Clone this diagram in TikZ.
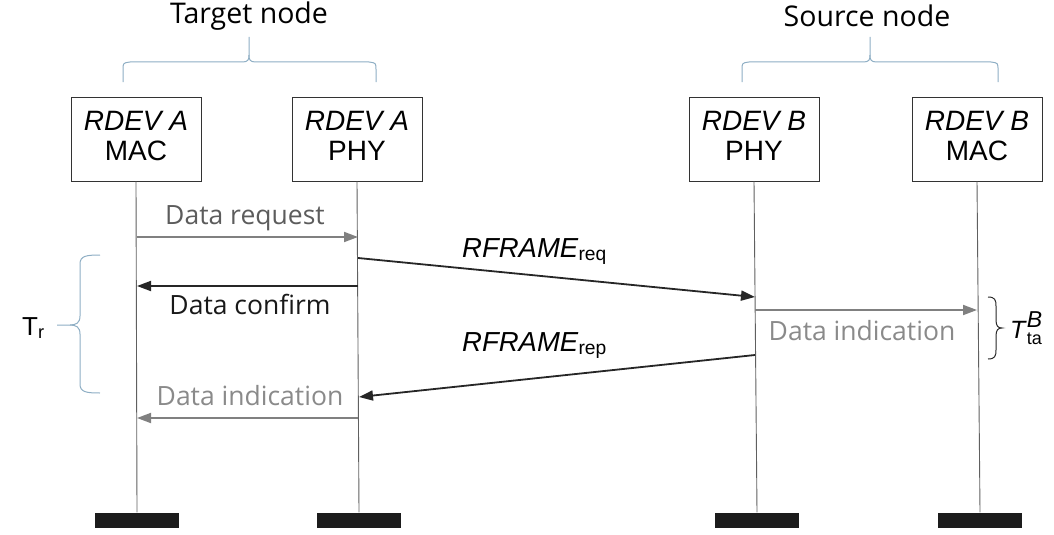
\documentclass[tikz,border=0pt]{standalone}
\usepackage{fontspec}
\setmainfont{Open Sans}
\newfontfamily\arialfont{Liberation Sans}
\usetikzlibrary{arrows.meta}
\definecolor{lifeline}{HTML}{606060}
\definecolor{msggray}{HTML}{808080}
\definecolor{txtgray}{HTML}{5C5C5C}
\definecolor{txtlight}{HTML}{8A8A8A}
\definecolor{bracecol}{HTML}{8EAEC4}
\definecolor{barcol}{HTML}{1C1C1C}
\tikzset{
  layerbox/.style={draw=black!80, line width=0.9pt, minimum width=130pt, minimum height=84pt,
    inner sep=0pt, align=center, text depth=7pt, font=\arialfont\fontsize{28}{30}\selectfont},
  endbar/.style={fill=barcol, draw=none, minimum width=84pt, minimum height=15pt, inner sep=0pt},
  life/.style={draw=lifeline, line width=0.9pt},
  grayarrow/.style={draw=msggray, line width=1.8pt, -{Triangle[length=14pt,width=10pt]}},
  blackarrow/.style={draw=black!85, line width=1.8pt, -{Triangle[length=14pt,width=10pt]}},
  msglabel/.style={font=\fontsize{26.5}{30}\selectfont, inner sep=0pt},
  framelabel/.style={font=\arialfont\fontsize{27.5}{30}\selectfont, inner sep=0pt},
  title/.style={font=\fontsize{28.5}{32}\selectfont, inner sep=0pt},
  brace/.style={draw=bracecol, line width=1pt},
}
\begin{document}
\begin{tikzpicture}[x=1pt, y=-1pt]
\useasboundingbox (0,0) rectangle (1054,535);

% layer boxes
\node[layerbox] (macA) at (136,139) {\textit{RDEV A}\\MAC};
\node[layerbox] (phyA) at (357,139) {\textit{RDEV A}\\PHY};
\node[layerbox] (phyB) at (754,139) {\textit{RDEV B}\\PHY};
\node[layerbox] (macB) at (977,139) {\textit{RDEV B}\\MAC};

% end bars
\node[endbar] (endMacA) at (137,520) {};
\node[endbar] (endPhyA) at (359,520) {};
\node[endbar] (endPhyB) at (757,520) {};
\node[endbar] (endMacB) at (980,520) {};

% lifelines
\draw[life] (macA.south) -- (endMacA.north);
\draw[life] (phyA.south) -- (endPhyA.north);
\draw[life] (phyB.south) -- (endPhyB.north);
\draw[life] (macB.south) -- (endMacB.north);

% group titles and braces
\node[title] (tgt) at (249,16) {Target node};
\node[title] (src) at (867,16) {Source node};
\coordinate (tgtTip) at (249,37);
\coordinate (srcTip) at (870,37);
\draw[brace] (123,82) -- (123,70) .. controls (123,63) .. (130,62) -- (242,62)
  .. controls (248,62) and (249,60) .. (249,55) -- (tgtTip);
\draw[brace] (376,82) -- (376,70) .. controls (376,63) .. (369,62) -- (256,62)
  .. controls (250,62) and (249,60) .. (249,55);
\draw[brace] (742,82) -- (742,70) .. controls (742,63) .. (749,62) -- (863,62)
  .. controls (869,62) and (870,60) .. (870,55) -- (srcTip);
\draw[brace] (998,82) -- (998,70) .. controls (998,63) .. (991,62) -- (877,62)
  .. controls (871,62) and (870,60) .. (870,55);

% message end points on the lifelines
\coordinate (reqS) at (137,237);  \coordinate (reqE) at (358,237);
\coordinate (rqS)  at (358,258);  \coordinate (rqE)  at (755,297);
\coordinate (cnfS) at (358,286);  \coordinate (cnfE) at (137,286);
\coordinate (indBS) at (755,310); \coordinate (indBE) at (977,310);
\coordinate (rpS)  at (755,355);  \coordinate (rpE)  at (359,397);
\coordinate (indAS) at (358,418); \coordinate (indAE) at (137,418);

% messages
\draw[grayarrow] (reqS) -- (reqE);
\node[msglabel, text=txtgray] (lblReq) at (245,218) {Data request};

\draw[blackarrow] (rqS) -- (rqE);
\node[framelabel, anchor=base west] (lblRq) at (462,257) {\textit{RFRAME}\textsubscript{req}};

\draw[blackarrow] (cnfS) -- (cnfE);
\node[msglabel, text=black!90] (lblCnf) at (250,304) {Data confirm};

\draw[grayarrow] (indBS) -- (indBE);
\node[msglabel, text=txtlight] (lblIndB) at (862,331) {Data indication};

\draw[blackarrow] (rpS) -- (rpE);
\node[framelabel, anchor=base west] (lblRp) at (462,351) {\textit{RFRAME}\textsubscript{rep}};

\draw[grayarrow] (indAS) -- (indAE);
\node[msglabel, text=txtlight] (lblIndA) at (250,396) {Data indication};

% T_r interval brace
\coordinate (trTip) at (57,325);
\draw[brace] (100,255) .. controls (86,255) and (80,256) .. (80,264) -- (80,316)
  .. controls (80,323) and (76,325) .. (70,325) -- (trTip);
\draw[brace] (100,393) .. controls (86,393) and (80,392) .. (80,384) -- (80,334)
  .. controls (80,327) and (76,325) .. (70,325);
\node[font=\arialfont\fontsize{26}{28}\selectfont, anchor=base west, inner sep=0pt] (lblTr) at (22,335) {T\textsubscript{r}};

% T_ta^B interval brace
\draw[black!85, line width=1pt] (988,297) .. controls (995,297) and (996,300) .. (996,306) -- (996,320)
  .. controls (996,326) and (998,328) .. (1002,328)
  .. controls (998,328) and (996,330) .. (996,336) -- (996,350)
  .. controls (996,356) and (995,359) .. (988,359);
\node[font=\arialfont\fontsize{25}{28}\selectfont, anchor=base west, inner sep=0pt] (lblTta) at (1010,338)
  {\textit{T}\rlap{\raisebox{11pt}{\fontsize{23}{24}\selectfont\textit{B}}}\raisebox{-6pt}{\fontsize{18}{20}\selectfont ta}};
\end{tikzpicture}
\end{document}
